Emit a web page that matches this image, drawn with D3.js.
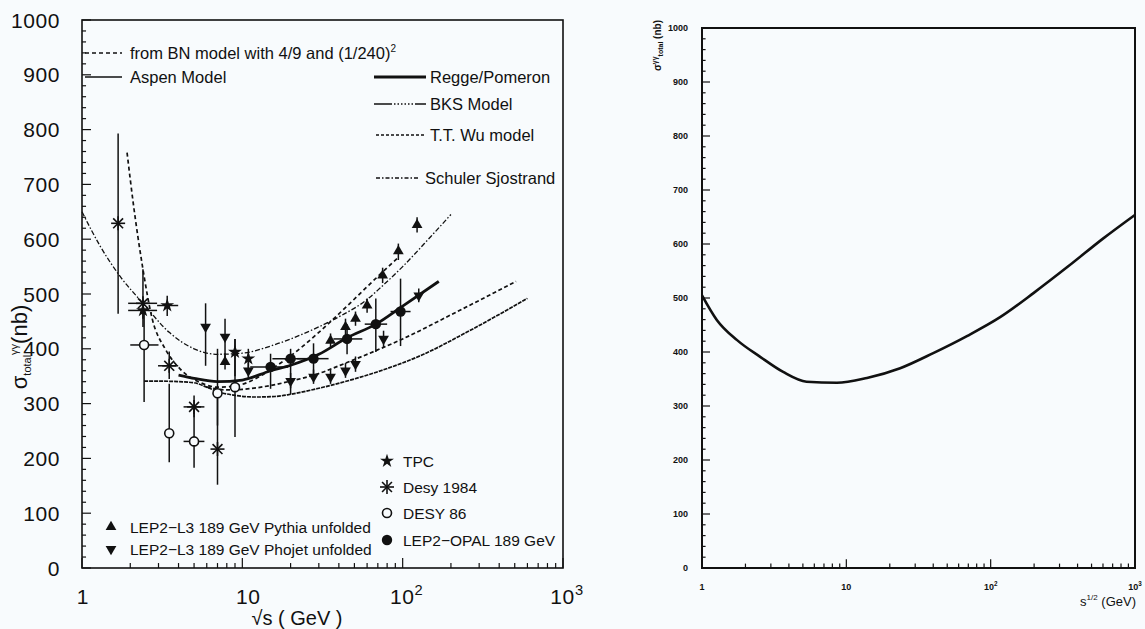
<!DOCTYPE html>
<html>
<head>
<meta charset="utf-8">
<script src="https://cdn.jsdelivr.net/npm/d3@7"></script>
<style>
  body { margin: 0; background: #f8fbfd; }
  text { font-family: "Liberation Sans", Arial, sans-serif; fill: #111; }
</style>
</head>
<body>
<div id="chart"></div>
<script>
/* ------------------------------------------------------------
   gamma-gamma total cross section : data vs models (left)
   and a single model curve up to 1 TeV (right)
   ------------------------------------------------------------ */

// axis ticks / labels
const yTickValues = [0, 100, 200, 300, 400, 500, 600, 700, 800, 900, 1000];
const xDecades = [1, 10, 100, 1000];
const xDecadeBase = ["1", "10", "10", "10"];
const xDecadeExp = ["", "", "2", "3"];

// model curves, left panel  (sqrt s in GeV, sigma in nb)
const bnW     = [1.91, 2.1, 2.37, 2.74, 3.3, 4.1, 5.5, 7, 9, 12, 15, 20, 30, 45, 70, 95];
const bnSigma = [758, 660, 555, 455, 400, 363, 338, 330, 332, 345, 362, 387, 430, 478, 532, 568];

const ssW     = [1, 1.3, 1.73, 2.4, 3.5, 5, 7, 10, 15, 20, 30, 41, 60, 73, 100, 150, 200];
const ssSigma = [650, 587, 532, 483, 430, 400, 390, 392, 405, 418, 440, 460, 490, 512, 550, 605, 645];

const reggeW     = [4, 5, 7, 10, 15, 20, 30, 45, 68, 100, 168];
const reggeSigma = [352, 346, 340, 343, 360, 370, 390, 420, 445, 478, 523];

const wuW     = [6, 8, 10, 15, 20, 30, 45, 66, 100, 200, 510];
const wuSigma = [330, 325, 326, 333, 341, 355, 375, 395, 418, 462, 523];

const aspenW     = [2.44, 3, 4, 5, 6, 7, 9, 12, 16, 20, 30, 50, 73, 135, 250, 600];
const aspenSigma = [341, 341, 340, 338, 330, 322, 315, 312, 313, 317, 328, 345, 360, 390, 430, 492];

// measurements
const tpc = [
  { w: 2.4, s: 470, lo: 455, hi: 490, wlo: 1.94, whi: 2.94 },
  { w: 3.4, s: 479, lo: 460, hi: 497, wlo: 2.94, whi: 3.98 },
  { w: 9.0, s: 394, lo: 350, hi: 418 },
  { w: 10.9, s: 382, lo: 365, hi: 400 }
];
const desy84 = [
  { w: 1.68, s: 629, lo: 464, hi: 793 },
  { w: 2.4, s: 483, lo: 440, hi: 545, wlo: 1.94, whi: 2.94 },
  { w: 3.5, s: 369, lo: 345, hi: 395, wlo: 2.98, whi: 3.98 },
  { w: 5.0, s: 294, lo: 275, hi: 315, wlo: 4.3, whi: 5.8 },
  { w: 7.0, s: 217, lo: 152, hi: 317 }
];
const desy86 = [
  { w: 2.44, s: 407, lo: 303, hi: 470, wlo: 2.0, whi: 3.0 },
  { w: 3.5, s: 246, lo: 193, hi: 336 },
  { w: 5.0, s: 231, lo: 183, hi: 290, wlo: 4.3, whi: 5.8 },
  { w: 7.0, s: 319, lo: 260, hi: 400 },
  { w: 9.0, s: 330, lo: 239, hi: 418 }
];
const l3Pythia = [
  { w: 7.8, s: 376, lo: 362, hi: 392 },
  { w: 35.5, s: 415, lo: 402, hi: 428 },
  { w: 44, s: 440, lo: 425, hi: 455 },
  { w: 50.8, s: 455, lo: 442, hi: 468 },
  { w: 60, s: 479, lo: 466, hi: 492 },
  { w: 75, s: 534, lo: 520, hi: 548 },
  { w: 94, s: 578, lo: 562, hi: 592 },
  { w: 123, s: 626, lo: 612, hi: 640 }
];
const l3Phojet = [
  { w: 5.9, s: 440, lo: 369, hi: 483 },
  { w: 7.8, s: 422, lo: 380, hi: 455 },
  { w: 10.9, s: 360, lo: 345, hi: 375 },
  { w: 20, s: 341, lo: 328, hi: 356 },
  { w: 27.8, s: 349, lo: 336, hi: 362 },
  { w: 35.5, s: 349, lo: 336, hi: 362 },
  { w: 44, s: 360, lo: 347, hi: 374 },
  { w: 50.8, s: 372, lo: 358, hi: 386 },
  { w: 76, s: 418, lo: 403, hi: 433 },
  { w: 126, s: 497, lo: 485, hi: 510 }
];
const opal = [
  { w: 15, s: 367, lo: 327, hi: 391, wlo: 11.2, whi: 19.3 },
  { w: 20, s: 382, lo: 317, hi: 400, wlo: 15.4, whi: 26.6 },
  { w: 27.8, s: 382, lo: 345, hi: 410, wlo: 22, whi: 34.5 },
  { w: 45, s: 418, lo: 390, hi: 445, wlo: 37, whi: 56 },
  { w: 68, s: 445, lo: 394, hi: 492, wlo: 58, whi: 80 },
  { w: 97, s: 468, lo: 405, hi: 528, wlo: 84, whi: 112 }
];

// right panel model curve
const rightW     = [1, 1.27, 1.75, 2.53, 3.65, 5.3, 8.6, 13.9, 23.6, 40, 69, 117, 200, 350, 600, 1000];
const rightSigma = [505, 459, 422, 391, 363, 345, 343, 352, 370, 398, 430, 465, 510, 560, 610, 654];

const svg = d3.select("#chart").append("svg")
  .attr("width", 1145)
  .attr("height", 629)
  .style("background", "#f8fbfd");

const zip = (a, b) => a.map((v, i) => [v, b[i]]);

function drawAxes(g, x, y, o) {
  const [x0, x1] = x.range();
  const [y0, y1] = y.range();
  g.append("rect")
    .attr("x", x0).attr("y", y1)
    .attr("width", x1 - x0).attr("height", y0 - y1)
    .attr("fill", "none").attr("stroke", "#111").attr("stroke-width", o.frame);

  // y ticks (inside)
  g.append("g").selectAll("line")
    .data(y.ticks(50))
    .join("line")
    .attr("x1", x0)
    .attr("x2", d => x0 + (d % 100 === 0 ? o.major : d % 50 === 0 ? o.major * 0.65 : o.major * 0.45))
    .attr("y1", d => y(d)).attr("y2", d => y(d))
    .attr("stroke", "#111").attr("stroke-width", 1.2);

  // x ticks (log, inside)
  g.append("g").selectAll("line")
    .data(x.ticks())
    .join("line")
    .attr("x1", d => x(d)).attr("x2", d => x(d))
    .attr("y1", y0)
    .attr("y2", d => y0 - (xDecades.includes(d) ? o.major * 1.1 : o.major * 0.55))
    .attr("stroke", "#111").attr("stroke-width", 1.2);

  g.append("g").selectAll("text")
    .data(yTickValues)
    .join("text")
    .attr("x", x0 - o.yLabelGap)
    .attr("y", d => y(d))
    .attr("dy", "0.36em")
    .attr("text-anchor", "end")
    .style("font-size", o.font + "px")
    .style("letter-spacing", o.spacing + "px")
    .style("font-weight", o.bold ? "bold" : "normal")
    .text(d => d);

  const xl = g.append("g").selectAll("text")
    .data(xDecades)
    .join("text")
    .attr("x", (d, i) => x(d) + o.xLabelShift[i])
    .attr("y", o.xLabelY)
    .attr("text-anchor", "middle")
    .style("font-size", o.font + "px")
    .style("letter-spacing", o.spacing + "px")
    .style("font-weight", o.bold ? "bold" : "normal");
  xl.append("tspan").text((d, i) => xDecadeBase[i]);
  xl.append("tspan")
    .attr("dy", -o.font * 0.45)
    .style("font-size", (o.font * 0.7) + "px")
    .text((d, i) => xDecadeExp[i]);
}

/* ---------------- left panel ---------------- */
const xL = d3.scaleLog().domain([1, 1000]).range([82, 563]);
const yL = d3.scaleLinear().domain([0, 1000]).range([568, 20]);
const left = svg.append("g");

drawAxes(left, xL, yL, { frame: 1.6, major: 9, font: 21, spacing: 0.6, bold: false,
  yLabelGap: 22, xLabelY: 604, xLabelShift: [1, 6, 4, 4] });

left.append("text")
  .attr("x", 297).attr("y", 625)
  .attr("text-anchor", "middle")
  .style("font-size", "20px")
  .text("\u221As ( GeV )");

const yTitleL = left.append("text")
  .attr("transform", "translate(27,347) rotate(-90)")
  .attr("text-anchor", "middle")
  .style("font-size", "22px");
yTitleL.append("tspan").text("\u03C3");
yTitleL.append("tspan").attr("dy", 4).style("font-size", "11px").text("total");
yTitleL.append("tspan").attr("dy", -13).style("font-size", "11px").text("\u03B3\u03B3");
yTitleL.append("tspan").attr("dy", 9).text("(nb)");

const lineL = d3.line().x(d => xL(d[0])).y(d => yL(d[1])).curve(d3.curveMonotoneX);

const curves = [
  { pts: zip(aspenW, aspenSigma), w: 1.7, dash: "4,1" },
  { pts: zip(wuW, wuSigma), w: 1.7, dash: "4,2.5" },
  { pts: zip(reggeW, reggeSigma), w: 2.8, dash: null },
  { pts: zip(ssW, ssSigma), w: 1.3, dash: "5,2,1.5,2" },
  { pts: zip(bnW, bnSigma), w: 1.7, dash: "4,3" }
];
left.append("g").selectAll("path")
  .data(curves)
  .join("path")
  .attr("d", d => lineL(d.pts))
  .attr("fill", "none")
  .attr("stroke", "#111")
  .attr("stroke-width", d => d.w)
  .attr("stroke-dasharray", d => d.dash);

// error bars
const allData = [tpc, desy84, desy86, l3Pythia, l3Phojet, opal];
const bars = left.append("g").attr("stroke", "#111").attr("stroke-width", 1.5);
allData.forEach(set => {
  bars.selectAll(null).data(set).join("line")
    .attr("x1", d => xL(d.w)).attr("x2", d => xL(d.w))
    .attr("y1", d => yL(d.lo)).attr("y2", d => yL(d.hi));
  bars.selectAll(null).data(set.filter(d => d.wlo)).join("line")
    .attr("x1", d => xL(d.wlo)).attr("x2", d => xL(d.whi))
    .attr("y1", d => yL(d.s)).attr("y2", d => yL(d.s));
});

// markers
const sym = {
  star: d3.symbol().type(d3.symbolStar).size(60)(),
  up: d3.symbol().type(d3.symbolTriangle).size(50)(),
  circle: d3.symbol().type(d3.symbolCircle).size(85)()
};
function asterisk(g, r) {
  [0, 45, 90, 135].forEach(a => {
    const t = a * Math.PI / 180;
    g.append("line")
      .attr("x1", -r * Math.cos(t)).attr("y1", -r * Math.sin(t))
      .attr("x2", r * Math.cos(t)).attr("y2", r * Math.sin(t))
      .attr("stroke", "#111").attr("stroke-width", 1.6);
  });
}
function marker(g, kind) {
  if (kind === "star") g.append("path").attr("d", sym.star).attr("fill", "#111");
  if (kind === "up") g.append("path").attr("d", sym.up).attr("fill", "#111");
  if (kind === "down") g.append("path").attr("d", sym.up).attr("transform", "rotate(180)").attr("fill", "#111");
  if (kind === "circle") g.append("path").attr("d", sym.circle).attr("fill", "#111");
  if (kind === "asterisk") asterisk(g, 7);
  if (kind === "open") g.append("circle").attr("r", 4.5).attr("fill", "#f8fbfd")
    .attr("stroke", "#111").attr("stroke-width", 1.6);
}
const markerSets = [
  [desy86, "open"], [tpc, "star"], [desy84, "asterisk"],
  [l3Pythia, "up"], [l3Phojet, "down"], [opal, "circle"]
];
markerSets.forEach(([set, kind]) => {
  left.append("g").selectAll("g")
    .data(set)
    .join("g")
    .attr("transform", d => `translate(${xL(d.w)},${yL(d.s)})`)
    .each(function () { marker(d3.select(this), kind); });
});

// legends
const lineLegend = [
  { x1: 85, x2: 122, y: 53, w: 1.5, dash: "4,3", label: "from BN model with 4/9 and (1/240)", sup: "2", tx: 130 },
  { x1: 85, x2: 122, y: 77, w: 1.3, dash: null, label: "Aspen Model", tx: 130 },
  { x1: 374, x2: 426, y: 77, w: 3, dash: null, label: "Regge/Pomeron", tx: 430 },
  { x1: 374, x2: 426, y: 104, w: 1.3, dash: "18,2,1.5,2,1.5,2,1.5,2,1.5,2,1.5,2,1.5,2,18", label: "BKS Model", tx: 430 },
  { x1: 376, x2: 424, y: 135, w: 1.6, dash: "3,2", label: "T.T. Wu model", tx: 430 },
  { x1: 376, x2: 420, y: 178, w: 1.3, dash: "4,2,1.5,2", label: "Schuler Sjostrand", tx: 425 }
];
const lg = left.append("g");
lg.selectAll("line").data(lineLegend).join("line")
  .attr("x1", d => d.x1).attr("x2", d => d.x2)
  .attr("y1", d => d.y).attr("y2", d => d.y)
  .attr("stroke", "#111").attr("stroke-width", d => d.w)
  .attr("stroke-dasharray", d => d.dash);
const lt = lg.selectAll("text").data(lineLegend).join("text")
  .attr("x", d => d.tx).attr("y", d => d.y).attr("dy", "0.36em")
  .style("font-size", "16.5px");
lt.append("tspan").text(d => d.label);
lt.append("tspan").attr("dy", -7).style("font-size", "10px").text(d => d.sup || "");

const markLegend = [
  { kind: "star", x: 387, y: 461, tx: 403, label: "TPC" },
  { kind: "asterisk", x: 387, y: 487, tx: 403, label: "Desy 1984" },
  { kind: "open", x: 387, y: 513, tx: 403, label: "DESY 86" },
  { kind: "circle", x: 387, y: 540, tx: 403, label: "LEP2\u2212OPAL 189 GeV" },
  { kind: "up", x: 111, y: 527, tx: 130, label: "LEP2\u2212L3 189 GeV Pythia unfolded" },
  { kind: "down", x: 111, y: 549, tx: 130, label: "LEP2\u2212L3 189 GeV Phojet unfolded" }
];
markLegend.forEach(m => {
  const g = left.append("g").attr("transform", `translate(${m.x},${m.y})`);
  marker(g, m.kind);
  left.append("text")
    .attr("x", m.tx).attr("y", m.y).attr("dy", "0.36em")
    .style("font-size", "15.5px")
    .text(m.label);
});

/* ---------------- right panel ---------------- */
const xR = d3.scaleLog().domain([1, 1000]).range([702, 1135]);
const yR = d3.scaleLinear().domain([0, 1000]).range([568, 28]);
const right = svg.append("g");

drawAxes(right, xR, yR, { frame: 2, major: 8, font: 9, spacing: 0, bold: true,
  yLabelGap: 14, xLabelY: 590, xLabelShift: [0, 0, 0, 0] });

right.append("path")
  .datum(zip(rightW, rightSigma))
  .attr("d", d3.line().x(d => xR(d[0])).y(d => yR(d[1])).curve(d3.curveMonotoneX))
  .attr("fill", "none")
  .attr("stroke", "#111")
  .attr("stroke-width", 2.6);

const xTitleR = right.append("text")
  .attr("x", 1136).attr("y", 606)
  .attr("text-anchor", "end")
  .style("font-size", "13px");
xTitleR.append("tspan").text("s");
xTitleR.append("tspan").attr("dy", -6).style("font-size", "8px").text("1/2");
xTitleR.append("tspan").attr("dy", 6).text(" (GeV)");

const yTitleR = right.append("text")
  .attr("transform", "translate(661,20) rotate(-90)")
  .attr("text-anchor", "end")
  .style("font-size", "10px")
  .style("font-weight", "bold");
yTitleR.append("tspan").text("\u03C3");
yTitleR.append("tspan").attr("dy", -4).style("font-size", "7px").text("\u03B3\u03B3");
yTitleR.append("tspan").attr("dy", 6).style("font-size", "7px").text("total");
yTitleR.append("tspan").attr("dy", -2).text(" (nb)");
</script>
</body>
</html>
